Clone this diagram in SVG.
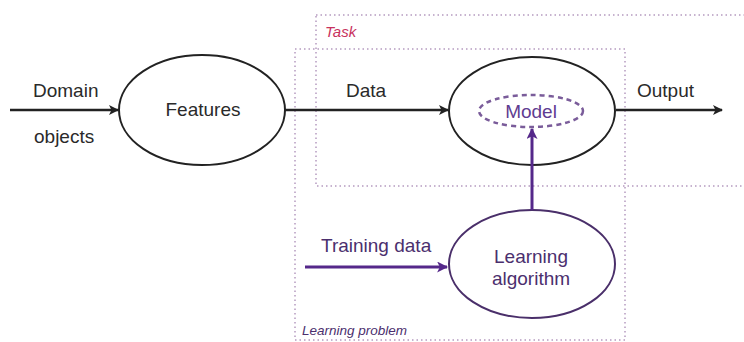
<svg xmlns="http://www.w3.org/2000/svg" width="744" height="342" viewBox="0 0 744 342">
<defs>
<style>
.t{font-family:"Liberation Sans",Arial,sans-serif;font-size:19px;fill:#2a2a2a}
.p{fill:#4b2f6e}
.box{fill:none;stroke:#b59ac0;stroke-width:1.5;stroke-dasharray:1.5 3}
.el{fill:#fff;stroke:#222;stroke-width:2}
.k{stroke:#222;stroke-width:2.5;fill:none}
.v{stroke:#55288a;stroke-width:3;fill:none}
.i{font-family:"Liberation Sans",Arial,sans-serif;font-style:italic}
</style>
<marker id="ak" markerWidth="10" markerHeight="10" refX="9" refY="5" orient="auto" markerUnits="userSpaceOnUse" viewBox="0 0 10 10"><path d="M0,0 L10,5 L0,10 L2.5,5 Z" fill="#222"/></marker>
<marker id="av" markerWidth="11" markerHeight="11" refX="9" refY="5" orient="auto" markerUnits="userSpaceOnUse" viewBox="0 0 10 10"><path d="M0,0 L10,5 L0,10 L2.5,5 Z" fill="#55288a"/></marker>
</defs>
<rect width="744" height="342" fill="#fff"/>
<g id="task-box">
<rect class="box" x="316" y="15" width="440" height="171"/>
<text class="i" x="325" y="37" font-size="15" fill="#c8325e">Task</text>
</g>
<g id="learning-problem-box">
<rect class="box" x="295" y="49" width="330" height="291"/>
<text class="i" x="302" y="335" font-size="13.5" fill="#4b2f6e">Learning problem</text>
</g>
<g id="features">
<ellipse class="el" cx="202" cy="110" rx="83" ry="55"/>
<text class="t" x="203" y="116" text-anchor="middle">Features</text>
</g>
<g id="model-box">
<ellipse class="el" cx="532" cy="111" rx="83" ry="54"/>
</g>
<g id="model">
<ellipse cx="531" cy="111" rx="52" ry="16" fill="none" stroke="#7a5c9a" stroke-width="2.5" stroke-dasharray="5 4"/>
<text class="t" x="531" y="118" text-anchor="middle" style="fill:#5f3c91">Model</text>
</g>
<g id="learning-algorithm">
<ellipse cx="532" cy="264" rx="83" ry="54" fill="#fff" stroke="#4a2f6a" stroke-width="2"/>
<text class="t p" x="531" y="263" text-anchor="middle">Learning</text>
<text class="t p" x="531" y="285" text-anchor="middle">algorithm</text>
</g>
<g id="connectors">
<line class="k" x1="10" y1="110" x2="118" y2="110" marker-end="url(#ak)"/>
<line class="k" x1="285" y1="110" x2="448" y2="110" marker-end="url(#ak)"/>
<line class="k" x1="616" y1="110" x2="722" y2="110" marker-end="url(#ak)"/>
<line class="v" x1="305" y1="267" x2="447" y2="267" marker-end="url(#av)"/>
<line class="v" x1="532" y1="210" x2="532" y2="129" marker-end="url(#av)"/>
<text class="t" x="33" y="97">Domain</text>
<text class="t" x="34" y="143">objects</text>
<text class="t" x="346" y="97">Data</text>
<text class="t" x="637" y="97">Output</text>
<text class="t p" x="321" y="252">Training data</text>
</g>
</svg>
